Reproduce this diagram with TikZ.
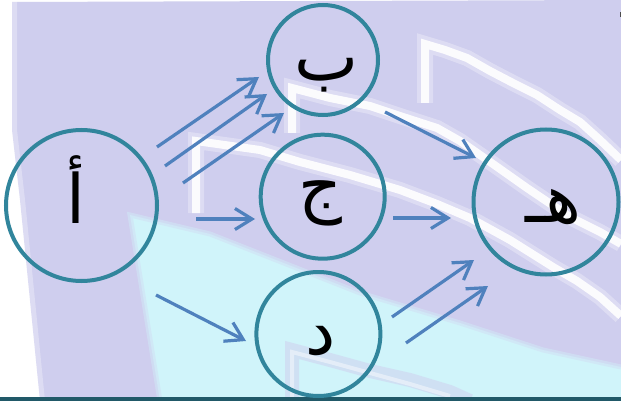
\documentclass[tikz,border=0pt]{standalone}
\usepackage{fontspec}
\usetikzlibrary{arrows.meta,calc}
\TeXXeTstate=1
\newfontfamily\arabicfont[Script=Arabic]{DejaVu Sans}
\definecolor{lav}{RGB}{207,206,238}
\definecolor{cyanbg}{RGB}{208,244,250}
\definecolor{ringcol}{RGB}{49,133,156}
\definecolor{arrcol}{RGB}{79,129,189}
\definecolor{basecol}{RGB}{33,89,104}
\begin{document}
\begin{tikzpicture}[x=1pt,y=-1pt,
  ring/.style={circle,draw=ringcol,line width=4pt,inner sep=0pt},
  lbl/.style={font=\arabicfont\fontsize{68}{72}\selectfont,inner sep=0pt,anchor=center},
  arr/.style={draw=arrcol,line width=3.2pt,-{Straight Barb[length=17pt,width=21pt]}},
  band/.style={draw=white,line width=8pt,opacity=0.9,line join=miter},
  halo/.style={draw=white,line width=16pt,opacity=0.3,line join=miter},
  dband/.style={draw=lav,line width=14pt,opacity=0.5},
  dcore/.style={draw=white,line width=4pt,opacity=0.45}]
\useasboundingbox (0,0) rectangle (621,401);
% background
\fill[white] (0,0) rectangle (621,401);
\fill[lav] (12,2) -- (621,0) -- (621,401) -- (40,401) -- (20,200) -- (12,130) -- cycle;
\draw[white,opacity=0.3,line width=6pt] (14,0) -- (14,130) -- (22,200) -- (42,401);
\fill[cyanbg] (130,215) -- (210,234) -- (360,293) -- (460,323) -- (543,350) -- (621,367) -- (621,401) -- (160,401) -- cycle;
\draw[lav!45!cyanbg,line width=5pt,opacity=0.7] (160,401) -- (130,215) -- (210,234) -- (360,293) -- (460,323) -- (543,350) -- (621,367);
% bands
\draw[halo] (425,103) -- (425,44) -- (445,50) -- (467,58) -- (490,71) -- (513,83) -- (537,95) -- (560,110) -- (580,122) -- (600,140) -- (621,160);
\draw[band] (425,103) -- (425,44) -- (445,50) -- (467,58) -- (490,71) -- (513,83) -- (537,95) -- (560,110) -- (580,122) -- (600,140) -- (621,160);
\draw[halo] (292,133) -- (292,88) -- (330,98) -- (370,106) -- (403,117) -- (437,128) -- (460,141) -- (493,164) -- (527,188) -- (570,217) -- (600,232) -- (621,244);
\draw[band] (292,133) -- (292,88) -- (330,98) -- (370,106) -- (403,117) -- (437,128) -- (460,141) -- (493,164) -- (527,188) -- (570,217) -- (600,232) -- (621,244);
\draw[halo] (196,213) -- (196,141) -- (260,150) -- (300,162) -- (350,175) -- (400,190) -- (437,204) -- (470,218) -- (510,240) -- (553,267) -- (577,281) -- (600,297) -- (621,316);
\draw[band] (196,213) -- (196,141) -- (260,150) -- (300,162) -- (350,175) -- (400,190) -- (437,204) -- (470,218) -- (510,240) -- (553,267) -- (577,281) -- (600,297) -- (621,316);
\draw[dband] (292,397) -- (292,350) -- (330,360) -- (370,371) -- (410,380) -- (450,392) -- (470,401);
\draw[dcore] (292,397) -- (292,352) -- (330,362) -- (370,373) -- (410,384) -- (450,396);
% marks
\fill[gray!60!black] (619.5,12) rectangle (621,17);
\fill[basecol] (0,397) rectangle (621,401);
% circles
\node[ring,minimum size=151pt] (a) at (81.5,205.5) {};
\node[ring,minimum size=110pt] (b) at (323,60) {};
\node[ring,minimum size=124pt] (c) at (322.7,196.7) {};
\node[ring,minimum size=124pt] (d) at (318.4,334) {};
\node[ring,minimum size=145pt] (e) at (546,202) {};
% labels
\node[lbl] (la) at (76,190) {\arabicfont\beginR أ\endR};
\node[lbl] (lb) at (327,75) {\arabicfont\beginR ب\endR};
\node[lbl] (lc) at (320,203.5) {\arabicfont\beginR ج\endR};
\node[lbl] (ld) at (321,341.5) {\arabicfont\beginR د\endR};
\node[lbl] (le) at (553.5,207) {\arabicfont\beginR هـ\endR};
% arrow ends
\coordinate (ab1s) at (157,147); \coordinate (ab1t) at (259,77);
\coordinate (ab2s) at (165,166); \coordinate (ab2t) at (267,94);
\coordinate (ab3s) at (183,183); \coordinate (ab3t) at (284,113);
\coordinate (acs) at (196,219); \coordinate (act) at (255,219);
\coordinate (ads) at (156,295); \coordinate (adt) at (246,341);
\coordinate (bes) at (385,112); \coordinate (bet) at (476,158);
\coordinate (ces) at (393,218); \coordinate (cet) at (451,218);
\coordinate (de1s) at (392,317); \coordinate (de1t) at (474,260);
\coordinate (de2s) at (406,343); \coordinate (de2t) at (488,286);
\draw[arr] (ab1s) -- (ab1t);
\draw[arr] (ab2s) -- (ab2t);
\draw[arr] (ab3s) -- (ab3t);
\draw[arr] (acs) -- (act);
\draw[arr] (ads) -- (adt);
\draw[arr] (bes) -- (bet);
\draw[arr] (ces) -- (cet);
\draw[arr] (de1s) -- (de1t);
\draw[arr] (de2s) -- (de2t);
\end{tikzpicture}
\end{document}
